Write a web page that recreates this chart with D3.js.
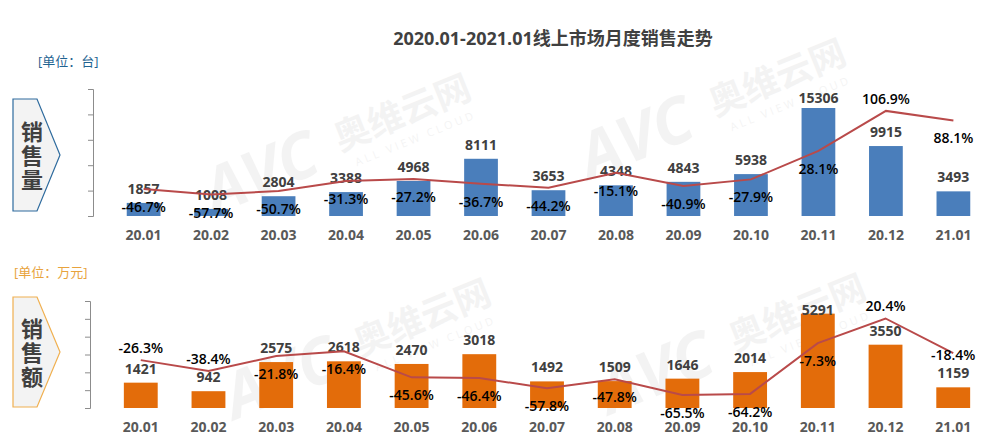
<!DOCTYPE html>
<html>
<head>
<meta charset="utf-8">
<script src="https://cdn.jsdelivr.net/npm/d3@7"></script>
<style>
  body { margin: 0; background: #fff; }
  text { font-family: "Open Sans", "Noto Sans CJK SC", sans-serif; }
</style>
</head>
<body>
<div id="chart"></div>
<script>
// months on the x axis
const months = ["20.01","20.02","20.03","20.04","20.05","20.06","20.07","20.08","20.09","20.10","20.11","20.12","21.01"];

// sales volume (台) and its yoy growth (%)
const volume = [1857, 1008, 2804, 3388, 4968, 8111, 3653, 4348, 4843, 5938, 15306, 9915, 3493];
const volumeGrowth = [-46.7, -57.7, -50.7, -31.3, -27.2, -36.7, -44.2, -15.1, -40.9, -27.9, 28.1, 106.9, 88.1];
const volumeGrowthSide = ["below","below","below","below","below","below","below","below","below","below","below","above","below"];

// sales amount (万元) and its yoy growth (%)
const amount = [1421, 942, 2575, 2618, 2470, 3018, 1492, 1509, 1646, 2014, 5291, 3550, 1159];
const amountGrowth = [-26.3, -38.4, -21.8, -16.4, -45.6, -46.4, -57.8, -47.8, -65.5, -64.2, -7.3, 20.4, -18.4];
const amountGrowthSide = ["above","above","below","below","below","below","below","below","below","below","below","above","center"];

const volumeTicks = [0, 3600, 7200, 10800, 14400, 18000];
const amountTicks = [0, 1000, 2000, 3000, 4000, 5000, 6000];

const W = 1002, H = 443;
const svg = d3.select("#chart").append("svg")
    .attr("width", W).attr("height", H);

svg.append("rect").attr("width", W).attr("height", H).attr("fill", "#fff");

// faint watermark
function watermark(x, y) {
    const g = svg.append("g")
        .attr("transform", `translate(${x},${y}) rotate(-22)`)
        .attr("fill", "#000").attr("opacity", 0.045);
    g.append("text").attr("x", 0).attr("y", 0)
        .attr("font-size", 64).attr("font-weight", "bold")
        .attr("font-style", "italic").text("AVC");
    g.append("text").attr("x", 140).attr("y", -12)
        .attr("font-size", 36).attr("font-weight", "bold")
        .attr("font-family", "Noto Sans CJK SC").text("奥维云网");
    g.append("text").attr("x", 150).attr("y", 8)
        .attr("font-size", 11).attr("letter-spacing", 3).text("ALL VIEW CLOUD");
}
watermark(215, 215);
watermark(590, 180);
watermark(235, 420);
watermark(610, 415);

// title
svg.append("text")
    .attr("x", 553).attr("y", 45)
    .attr("text-anchor", "middle")
    .attr("font-size", 18).attr("font-weight", "bold")
    .attr("fill", "#404040")
    .text("2020.01-2021.01线上市场月度销售走势");

function panel(cfg) {
    const x = d3.scaleBand().domain(months).range(cfg.xRange).padding(0.5);
    const y = d3.scaleLinear().domain([0, d3.max(cfg.ticks)]).range([cfg.bottom, cfg.top]);
    const y2 = d3.scaleLinear().domain(cfg.growthDomain).range([cfg.bottom, cfg.top]);

    // unit label
    svg.append("text")
        .attr("x", cfg.unitX).attr("y", cfg.unitY)
        .attr("font-size", 13).attr("fill", cfg.unitColor)
        .attr("font-family", "Noto Sans CJK SC")
        .text(cfg.unit);

    // arrow box on the left
    const mid = (cfg.boxTop + cfg.boxBottom) / 2;
    svg.append("path")
        .attr("d", `M13,${cfg.boxTop} L37,${cfg.boxTop} L60,${mid} L37,${cfg.boxBottom} L13,${cfg.boxBottom} Z`)
        .attr("fill", "#f3f3f3")
        .attr("stroke", cfg.boxColor).attr("stroke-width", 1.2);
    cfg.boxText.split("").forEach((ch, i) => {
        svg.append("text")
            .attr("x", 32).attr("y", mid - 24 + i * 24)
            .attr("text-anchor", "middle").attr("dominant-baseline", "central")
            .attr("font-size", 22).attr("font-weight", "bold")
            .attr("font-family", "Noto Sans CJK SC")
            .attr("fill", "#404040")
            .text(ch);
    });

    // left axis, ticks only
    const ax = svg.append("g")
        .attr("transform", `translate(${cfg.xRange[0]},0)`)
        .call(d3.axisLeft(y).tickValues(cfg.ticks).tickSize(5).tickSizeOuter(5).tickFormat(""));
    ax.selectAll("path, line").attr("stroke", "#8c8c8c");

    // bars
    svg.selectAll(null)
        .data(cfg.values)
        .enter()
        .append("rect")
        .attr("x", (d, i) => x(months[i]))
        .attr("y", d => y(d))
        .attr("width", x.bandwidth())
        .attr("height", d => cfg.bottom - y(d))
        .attr("fill", cfg.barColor);

    // bar labels
    svg.selectAll(null)
        .data(cfg.values)
        .enter()
        .append("text")
        .attr("x", (d, i) => x(months[i]) + x.bandwidth() / 2)
        .attr("y", d => Math.max(y(d) - 9, cfg.top + 14))
        .attr("text-anchor", "middle")
        .attr("font-size", 14).attr("font-weight", "bold")
        .attr("fill", "#404040")
        .text(d => d);

    // growth line
    const line = d3.line()
        .x((d, i) => x(months[i]) + x.bandwidth() / 2)
        .y(d => y2(d));
    svg.append("path")
        .datum(cfg.growth)
        .attr("d", line)
        .attr("fill", "none")
        .attr("stroke", "#b94a4a")
        .attr("stroke-width", 2);

    // growth labels
    const off = { above: -7, below: 23, center: 7 };
    svg.selectAll(null)
        .data(cfg.growth)
        .enter()
        .append("text")
        .attr("x", (d, i) => x(months[i]) + x.bandwidth() / 2)
        .attr("y", (d, i) => y2(d) + off[cfg.side[i]])
        .attr("text-anchor", "middle")
        .attr("font-size", 14).attr("font-weight", 600)
        .attr("fill", "#000")
        .text(d => d.toFixed(1) + "%");

    // month labels
    svg.selectAll(null)
        .data(months)
        .enter()
        .append("text")
        .attr("x", d => x(d) + x.bandwidth() / 2)
        .attr("y", cfg.monthY)
        .attr("text-anchor", "middle")
        .attr("dominant-baseline", "central")
        .attr("font-size", 14).attr("font-weight", "bold")
        .attr("fill", "#595959")
        .text(d => d);
}

panel({
    values: volume, growth: volumeGrowth, side: volumeGrowthSide,
    ticks: volumeTicks, growthDomain: [-100, 150],
    xRange: [93, 1004], top: 89, bottom: 216, monthY: 234,
    barColor: "#4a7ebb",
    unit: "[单位：台]", unitX: 38, unitY: 66, unitColor: "#1f6391",
    boxTop: 99, boxBottom: 211, boxColor: "#2e6b9e", boxText: "销售量"
});

panel({
    values: amount, growth: amountGrowth, side: amountGrowthSide,
    ticks: amountTicks, growthDomain: [-80, 40],
    xRange: [90, 1004], top: 301, bottom: 408, monthY: 426,
    barColor: "#e36c0a",
    unit: "[单位：万元]", unitX: 14, unitY: 277, unitColor: "#e8a33d",
    boxTop: 297, boxBottom: 407, boxColor: "#f0b050", boxText: "销售额"
});
</script>
</body>
</html>
